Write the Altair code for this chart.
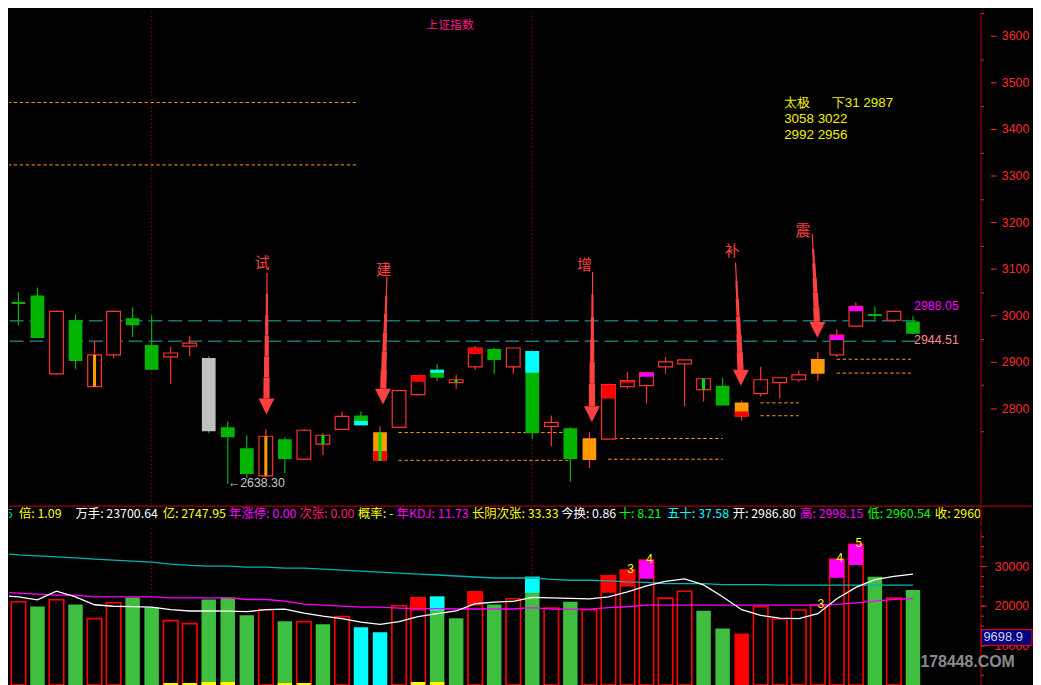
import altair as alt
import pandas as pd

# ---------------- candle data (index 0..48) ----------------
candle_idx = list(range(49))
opens = [3131.9, 3028.5, 3042.6, 2874.4, 2989.4, 2846.8, 2914.9, 2993.6, 2936.2, 2910.6,
         2934.0, 2908.5, 2759.5, 2714.8, 2655.3, 2734.0, 2691.4, 2723.4, 2755.3, 2785.1,
         2687.2, 2759.5, 2829.8, 2883.0, 2855.3, 2889.3, 2927.6, 2889.3, 2923.4, 2761.7,
         2757.4, 2689.3, 2734.0, 2846.8, 2848.9, 2889.3, 2895.7, 2840.4, 2848.9, 2782.9,
         2831.9, 2855.3, 2861.7, 2874.4, 2914.9, 2976.6, 3002.8, 2989.4, 2986.80]
closes = [3017.0, 3024.0, 2951.1, 3008.5, 2902.1, 2914.9, 3008.5, 2978.7, 2883.0, 2919.1,
          2940.4, 2751.0, 2738.3, 2659.5, 2740.4, 2691.4, 2753.2, 2742.5, 2782.9, 2763.8,
          2748.9, 2838.3, 2870.2, 2865.9, 2861.7, 2929.8, 2904.2, 2929.8, 2746.8, 2770.2,
          2691.4, 2736.1, 2851.0, 2859.6, 2876.6, 2900.0, 2904.2, 2863.8, 2806.4, 2812.7,
          2861.7, 2865.9, 2872.3, 2906.4, 2957.4, 3019.2, 2998.4, 3008.5, 2960.54]
highs = [3136.2, 3048.9, 3059.6, 3010.6, 3002.1, 2944.7, 3010.6, 3017.0, 3000.0, 2931.9,
         2955.3, 2912.8, 2772.3, 2742.5, 2755.3, 2738.3, 2755.3, 2746.8, 2793.6, 2793.6,
         2761.7, 2840.4, 2870.2, 2895.7, 2872.3, 2934.0, 2929.8, 2929.8, 2923.4, 2785.1,
         2759.5, 2748.9, 2853.2, 2878.7, 2876.6, 2910.6, 2904.2, 2863.8, 2865.9, 2817.0,
         2889.3, 2865.9, 2880.8, 2921.3, 2970.2, 3027.7, 3019.2, 3008.5, 2998.15]
lows = [3015.0, 2978.7, 2951.1, 2872.3, 2885.1, 2846.8, 2908.5, 2953.2, 2883.0, 2853.2,
        2912.8, 2746.8, 2638.30, 2651.0, 2653.1, 2661.6, 2691.4, 2700.0, 2755.3, 2763.8,
        2687.2, 2759.5, 2827.6, 2859.6, 2842.5, 2883.0, 2874.4, 2874.4, 2734.0, 2719.1,
        2642.5, 2672.3, 2734.0, 2842.5, 2810.6, 2874.4, 2804.2, 2814.9, 2806.4, 2774.4,
        2825.5, 2821.2, 2857.4, 2859.6, 2910.6, 2974.5, 2989.4, 2985.1, 2960.54]
# g = green solid, h = red hollow, s = grey solid, o = orange solid
body_kind = list("ggghghhgghhsgghghhhgohhghhghghgohhhhhhgohhhohhghg")

# coloured top/bottom parts of candle bodies
ov_idx = [19, 20, 22, 23, 25, 28, 32, 33, 34, 39, 44, 45]
ov_top = [2772.9, 2708.5, 2870.2, 2883.0, 2929.8, 2923.4, 2851.0, 2859.6, 2876.6, 2793.6, 2957.4, 3019.2]
ov_bot = [2763.8, 2687.2, 2857.4, 2876.6, 2917.0, 2876.6, 2821.2, 2855.3, 2868.1, 2782.9, 2946.8, 3008.5]
ov_col = ["cyan", "red", "red", "cyan", "red", "cyan", "red", "red", "magenta", "red", "magenta", "magenta"]

# thin inner strips
in_idx = [5, 14, 17, 20, 24, 37]
in_top = [2914.9, 2740.4, 2742.5, 2748.9, 2861.7, 2863.8]
in_bot = [2846.8, 2655.3, 2723.4, 2687.2, 2855.3, 2840.4]
in_col = ["orange", "orange", "lime", "lime", "lime", "lime"]

# reference levels
levels = [2988.05, 2944.51]
level_labels = ["2988.05", "2944.51"]
level_from = -0.5
level_to = 48.4

# orange dashed support lines
seg_p = [3456.9, 3322.8, 2748.3, 2688.7, 2735.5, 2691.0, 2812.1, 2784.4, 2905.7, 2875.9]
seg_i0 = [-0.5, -0.5, 20.97, 20.97, 31.98, 31.98, 39.98, 39.98, 43.99, 43.99]
seg_i1 = [18.84, 18.84, 29.93, 29.93, 38.0, 38.0, 42.0, 42.0, 47.9, 47.9]

# arrow annotations
arrow_txt = ["试", "建", "增", "补", "震"]
txt_i = [13.81, 20.19, 30.74, 38.5, 42.22]
txt_p = [3112.8, 3097.9, 3108.5, 3137.3, 3181.9]
arr_top_i = [14.06, 20.36, 31.17, 38.68, 42.71]
arr_top_p = [3091.5, 3083.0, 3093.6, 3112.8, 3175.1]
arr_tip_i = [14.03, 20.14, 31.13, 38.98, 43.0]
arr_tip_p = [2787.2, 2808.5, 2770.8, 2848.9, 2951.7]

divider_idx = [8, 28]

# ---------------- volume data ----------------
vols = [27575, 21000, 19833, 21500, 20333, 16750, 20750, 22083, 19583, 16250,
        15500, 21583, 22083, 17583, 19000, 16083, 16000, 15333, 17250, 14583,
        13333, 20000, 22000, 22333, 16833, 23500, 20333, 21750, 27333, 19417,
        21000, 19000, 27583, 29000, 31500, 21917, 23667, 18750, 14250, 13000,
        19750, 16667, 18917, 20250, 31750, 35500, 27333, 21917, 24000]
vol_kind = list("ghghghhggh" "hggghghghc" "chhgghghgh" "ghhhhhhggr" "hhhhhhghg")
vo_idx = [22, 23, 25, 28, 32, 33, 34, 44, 45]
vo_bot = [18825, 18750, 20075, 23250, 23250, 24825, 26825, 27075, 30250]
vo_col = ["red", "cyan", "red", "cyan", "red", "red", "magenta", "magenta", "magenta"]
ys_idx = [9, 10, 11, 12, 15, 16, 22, 23]
ys_h = [500, 500, 750, 750, 500, 500, 750, 750]
lab_idx = [33, 34, 43, 44, 45]
lab_txt = ["3", "4", "3", "4", "5"]

ma_white = [22575, 22250, 21500, 23675, 22250, 20250, 19875, 19800, 19625, 19000,
            18675, 18675, 18625, 18500, 19000, 19125, 18125, 17375, 16750, 15875,
            15325, 16000, 17250, 18000, 18675, 20500, 20925, 21125, 22125, 22000,
            21875, 21750, 22250, 23500, 25000, 26125, 26750, 25250, 22250, 19000,
            17575, 16875, 16750, 18000, 21750, 24625, 26575, 27425, 28000]
ma_cyan = [33250, 32825, 32575, 32325, 32075, 31750, 31500, 31250, 31000, 30500,
           30175, 30000, 30000, 29750, 29750, 29500, 29500, 29250, 29000, 28750,
           28500, 28250, 28000, 27750, 27500, 27250, 27000, 27000, 27000, 26675,
           26425, 26425, 26250, 26000, 25875, 25575, 25575, 25575, 25325, 25325,
           25325, 25175, 25175, 25175, 25175, 25175, 25175, 25175, 25175]
ma_mag = [23425, 23175, 22925, 22675, 22675, 22250, 22250, 22250, 22250, 22000,
          22000, 22000, 22000, 21575, 21575, 21175, 20425, 20175, 19925, 19675,
          19675, 19425, 19250, 19250, 19175, 19175, 19175, 19175, 19500, 19125,
          19125, 19125, 19500, 19750, 20175, 20175, 20175, 20175, 20175, 20175,
          20175, 20175, 20175, 20175, 20325, 20750, 21175, 21625, 21825]
current_vol = "9698.9"

# ---------------- info bar text ----------------
info_txt = ["95", "倍: 1.09", "万手: 23700.64", "亿: 2747.95", "年涨停: 0.00", "次张: 0.00",
            "概率: -", "年KDJ: 11.73", "长阴次张: 33.33", "今换: 0.86", "十: 8.21",
            "五十: 37.58", "开: 2986.80", "高: 2998.15", "低: 2960.54", "收: 2960.54"]
info_x = [-2, 18, 75, 163, 230, 301, 360, 399, 475, 565, 623, 672, 738, 806, 874, 942]
info_col = ["#00c8c8", "#ffff00", "#ffffff", "#ffff00", "#ff00ff", "#ff1a6e", "#ffff00",
            "#ff00ff", "#ffff00", "#ffffff", "#00ff00", "#00ffff", "#ffffff", "#ff00ff",
            "#00ff00", "#ffff00"]

# ---------------- styling ----------------
W = 980
H_PRICE = 496
H_INFO = 21
H_VOL = 158
X_DOM = [0.505, 51.547]
P_DOM = [2595.7, 3651.2]
V_DOM = [0, 39500]
HALF = 0.36
CJK = "Noto Sans CJK SC"
NUM = "Liberation Sans"
RED = "#ff3232"
VRED = "#ff0000"
GREEN = "#00b400"
VGREEN = "#3fbf3f"
GRAY = "#c0c0c0"
ORANGE = "#ff9a00"
CYAN = "#00ffff"
MAGENTA = "#ff00ff"
LIME = "#00e000"
AX_RED = "#ff2a2a"
DOM_RED = "#c00000"
TEAL = "#2ab0b0"
DOT_RED = "#b00000"
ARROW = "#ff4040"
TAIJI = "#f0f000"
cmap = {"cyan": CYAN, "red": VRED, "magenta": MAGENTA, "orange": ORANGE, "lime": LIME}

xs = alt.Scale(domain=X_DOM, nice=False, zero=False)
ps = alt.Scale(domain=P_DOM, nice=False, zero=False)
vs = alt.Scale(domain=V_DOM, nice=False, zero=False)
PX_I = W / (X_DOM[1] - X_DOM[0])
PX_P = H_PRICE / (P_DOM[1] - P_DOM[0])


def xq(f):
    return alt.X(f, type="quantitative", scale=xs, axis=None)


def pq(f, axis=None):
    return alt.Y(f, type="quantitative", scale=ps, axis=axis)


def vq(f, axis=None):
    return alt.Y(f, type="quantitative", scale=vs, axis=axis)


one = pd.DataFrame({"a": [0]})

# ---------------- price panel ----------------
cd = pd.DataFrame({"i": candle_idx, "o": opens, "c": closes, "h": highs, "l": lows, "k": body_kind})
cd["xl"] = cd["i"] - HALF
cd["xr"] = cd["i"] + HALF
cd["fill"] = cd["k"].map({"g": GREEN, "s": GRAY, "o": ORANGE, "h": "black"})
cd["wick"] = cd["k"].map({"g": GREEN, "s": GREEN, "o": RED, "h": RED})

ovd = pd.DataFrame({"i": ov_idx, "t": ov_top, "b": ov_bot, "col": [cmap[c] for c in ov_col]})
ovd["xl"] = ovd["i"] - HALF
ovd["xr"] = ovd["i"] + HALF
ind = pd.DataFrame({"i": in_idx, "t": in_top, "b": in_bot, "col": [cmap[c] for c in in_col]})
ind["xl"] = ind["i"] - 0.08
ind["xr"] = ind["i"] + 0.08

ldf = pd.DataFrame({"p": levels, "x0": [level_from] * 2, "x1": [level_to] * 2})
sdf = pd.DataFrame({"p": seg_p, "x0": seg_i0, "x1": seg_i1})
vdf = pd.DataFrame({"i": divider_idx})

# arrow shafts as tapered steps of rules, heads as triangles
shaft_w = [1.2, 2.2, 3.2, 4.2, 5.2, 6.2]
HEAD = 16.0
srows, hrows = [], []
for a in range(len(arrow_txt)):
    ti, tp, pi, pp = arr_top_i[a], arr_top_p[a], arr_tip_i[a], arr_tip_p[a]
    hb = pp + HEAD / PX_P
    n = len(shaft_w)
    for s in range(n):
        y0 = tp + (hb - tp) * s / n
        y1 = tp + (hb - tp) * (s + 1) / n
        x0 = ti + (pi - ti) * (tp - y0) / (tp - pp)
        x1 = ti + (pi - ti) * (tp - y1) / (tp - pp)
        srows.append({"x0": x0, "x1": x1, "y0": y0, "y1": y1, "w": shaft_w[s]})
    hc = pp + (HEAD / 2) / PX_P
    hrows.append({"x": ti + (pi - ti) * (tp - hc) / (tp - pp), "y": hc})
shdf = pd.DataFrame(srows)
hddf = pd.DataFrame(hrows)
tdf = pd.DataFrame({"i": txt_i, "p": txt_p, "t": arrow_txt})

minor_axis = alt.Axis(orient="right", values=[2750 + 100 * k for k in range(10)], labels=False,
                      ticks=True, tickSize=3, tickColor=AX_RED, domain=True, domainColor=DOM_RED,
                      domainWidth=1, grid=False, title=None)
major_axis = alt.Axis(orient="right", values=[2800 + 100 * k for k in range(9)], offset=10,
                      domain=False, ticks=True, tickSize=6, tickColor=AX_RED, labelColor=AX_RED,
                      labelFont=NUM, labelFontSize=12.5, labelPadding=5, labelOverlap=False,
                      format="d", grid=False, title=None)


def taiji(txt, x, y):
    return alt.Chart(one).mark_text(text=txt, font=NUM, fontSize=13.5, color=TAIJI, align="left",
                                    baseline="middle").encode(x=alt.value(x), y=alt.value(y))


p_layers = [
    alt.Chart(vdf).mark_rule(color=DOT_RED, strokeDash=[1, 3], strokeWidth=1).encode(x=xq("i")),
    alt.Chart(ldf).mark_rule(color=TEAL, strokeDash=[14, 6], strokeWidth=1, clip=True).encode(
        x=xq("x0"), x2="x1", y=pq("p")),
    alt.Chart(sdf).mark_rule(color=ORANGE, strokeDash=[3.5, 2.5], strokeWidth=1, clip=True).encode(
        x=xq("x0"), x2="x1", y=pq("p")),
    alt.Chart(cd).mark_rule(strokeWidth=1.2, clip=True).encode(
        x=xq("i"), y=pq("l", minor_axis), y2="h", color=alt.Color("wick:N", scale=None)),
    alt.Chart(cd).transform_filter("datum.k != 'h'").mark_rect(clip=True).encode(
        x=xq("xl"), x2="xr", y=pq("o"), y2="c", color=alt.Color("fill:N", scale=None)),
    alt.Chart(cd).transform_filter("datum.k == 'h'").mark_rect(
        fill="black", stroke=RED, strokeWidth=1.2, clip=True).encode(
        x=xq("xl"), x2="xr", y=pq("o", major_axis), y2="c"),
    alt.Chart(ovd).mark_rect(clip=True).encode(
        x=xq("xl"), x2="xr", y=pq("t"), y2="b", color=alt.Color("col:N", scale=None)),
    alt.Chart(ind).mark_rect(clip=True).encode(
        x=xq("xl"), x2="xr", y=pq("t"), y2="b", color=alt.Color("col:N", scale=None)),
    alt.Chart(shdf).mark_rule(color=ARROW).encode(
        x=xq("x0"), x2="x1", y=pq("y0"), y2="y1", size=alt.Size("w:Q", scale=None)),
    alt.Chart(hddf).mark_point(shape="M -1 -1 L 1 -1 L 0 1 Z", filled=True, size=256, color=ARROW,
                               opacity=1, strokeWidth=0).encode(x=xq("x"), y=pq("y")),
    alt.Chart(tdf).mark_text(font=CJK, fontSize=15, color=ARROW, baseline="middle").encode(
        x=xq("i"), y=pq("p"), text="t:N"),
    alt.Chart(pd.DataFrame({"x": [48.06], "p": [levels[0]], "t": [level_labels[0]]})).mark_text(
        align="left", baseline="middle", font=NUM, fontSize=12.5, color=MAGENTA, dy=-15).encode(
        x=xq("x"), y=pq("p"), text="t:N"),
    alt.Chart(pd.DataFrame({"x": [48.06], "p": [levels[1]], "t": [level_labels[1]]})).mark_text(
        align="left", baseline="middle", font=NUM, fontSize=12.5, color="#ff8c8c", dy=-1.5).encode(
        x=xq("x"), y=pq("p"), text="t:N"),
    alt.Chart(pd.DataFrame({"i": [12], "p": [lows[12]], "t": ["\u2190" + "%.2f" % lows[12]]})).mark_text(
        align="left", baseline="middle", font=NUM, fontSize=12.5, color="#c8c8c8", dy=-1).encode(
        x=xq("i"), y=pq("p"), text="t:N"),
    alt.Chart(one).mark_text(text="上证指数", font=CJK, fontSize=12, color="#ff1a8c",
                             baseline="middle").encode(x=alt.value(445), y=alt.value(13)),
    taiji("太极", 782, 92),
    taiji("下31 2987", 830, 92),
    taiji("3058 3022", 782, 108),
    taiji("2992 2956", 782, 124),
]
price = alt.layer(*p_layers).properties(width=W, height=H_PRICE).resolve_axis(y="independent")

# ---------------- info bar ----------------
idf = pd.DataFrame({"px": [x - 8 for x in info_x], "t": info_txt, "col": info_col})
info = alt.layer(
    alt.Chart(idf).mark_text(align="left", baseline="middle", font=CJK, fontSize=12.5, clip=True).encode(
        x=alt.X("px:Q", scale=None), y=alt.value(8.5), text="t:N", color=alt.Color("col:N", scale=None)),
    alt.Chart(one).mark_rule(color="#d00000", strokeWidth=1).encode(
        x=alt.value(0), x2=alt.value(1032), y=alt.value(0.5)),
    alt.Chart(one).mark_rule(color=DOM_RED, strokeWidth=1).encode(
        x=alt.value(980.5), y=alt.value(0), y2=alt.value(H_INFO)),
).properties(width=W, height=H_INFO)

# ---------------- volume panel ----------------
vd = pd.DataFrame({"i": candle_idx, "v": vols, "k": vol_kind, "zero": 0})
vd["xl"] = vd["i"] - 0.38
vd["xr"] = vd["i"] + 0.38
vd["fill"] = vd["k"].map({"g": VGREEN, "c": CYAN, "r": VRED, "h": "black"})
vod = pd.DataFrame({"i": vo_idx, "b": vo_bot, "col": [cmap[c] for c in vo_col]})
vod["t"] = [vols[i] for i in vo_idx]
vod["xl"] = vod["i"] - 0.38
vod["xr"] = vod["i"] + 0.38
ysd = pd.DataFrame({"i": ys_idx, "h": ys_h, "zero": 0})
ysd["xl"] = ysd["i"] - 0.38
ysd["xr"] = ysd["i"] + 0.38
labd = pd.DataFrame({"i": lab_idx, "t": lab_txt, "v": [vols[i] for i in lab_idx]})
mad = pd.DataFrame({"i": candle_idx, "w": ma_white, "c": ma_cyan, "m": ma_mag})

v_minor = alt.Axis(orient="right", values=[2500 * k for k in range(1, 16)], labels=False, ticks=True,
                   tickSize=3, tickColor=AX_RED, domain=True, domainColor=DOM_RED, domainWidth=1,
                   grid=False, title=None)
v_major = alt.Axis(orient="right", values=[10000, 20000, 30000], domain=False, ticks=True, tickSize=6,
                   tickColor=AX_RED, labelColor=AX_RED, labelFont=NUM, labelFontSize=12.5,
                   labelPadding=8, labelOverlap=False, format="d", grid=False, title=None)

v_layers = [
    alt.Chart(vdf).mark_rule(color=DOT_RED, strokeDash=[1, 3], strokeWidth=1).encode(x=xq("i")),
    alt.Chart(vd).transform_filter("datum.k != 'h'").mark_rect(clip=True).encode(
        x=xq("xl"), x2="xr", y=vq("zero", v_minor), y2="v", color=alt.Color("fill:N", scale=None)),
    alt.Chart(vd).transform_filter("datum.k == 'h'").mark_rect(
        fill="black", stroke=VRED, strokeWidth=1.6, clip=True).encode(
        x=xq("xl"), x2="xr", y=vq("zero", v_major), y2="v"),
    alt.Chart(vod).mark_rect(clip=True).encode(
        x=xq("xl"), x2="xr", y=vq("b"), y2="t", color=alt.Color("col:N", scale=None)),
    alt.Chart(ysd).mark_rect(clip=True, color="#ffff00").encode(
        x=xq("xl"), x2="xr", y=vq("zero"), y2="h"),
    alt.Chart(mad).mark_line(color="#00b4b4", strokeWidth=1.3, clip=True).encode(x=xq("i"), y=vq("c")),
    alt.Chart(mad).mark_line(color=MAGENTA, strokeWidth=1.3, clip=True).encode(x=xq("i"), y=vq("m")),
    alt.Chart(mad).mark_line(color="#ffffff", strokeWidth=1.3, clip=True).encode(x=xq("i"), y=vq("w")),
    alt.Chart(labd).mark_text(font=NUM, fontSize=12, color="#ffff00", dx=3, dy=-1,
                              baseline="middle").encode(x=xq("i"), y=vq("v"), text="t:N"),
    alt.Chart(one).mark_rect(fill="#000080", stroke=VRED, strokeWidth=1).encode(
        x=alt.value(981), x2=alt.value(1032), y=alt.value(102), y2=alt.value(118)),
    alt.Chart(one).mark_text(text=current_vol, font=NUM, fontSize=13, color="#d0d0f0", align="left",
                             baseline="middle").encode(x=alt.value(983), y=alt.value(110)),
    alt.Chart(one).mark_text(text="178448.COM", font=NUM, fontSize=16, fontWeight="bold",
                             color="#8a8a8a", baseline="middle").encode(x=alt.value(967), y=alt.value(135)),
]
vol = alt.layer(*v_layers).properties(width=W, height=H_VOL).resolve_axis(y="independent")

chart = alt.vconcat(price, info, vol, spacing=0).properties(
    background="black", padding=0).configure_view(strokeWidth=0)

chart.save("out.html", embed_options={"renderer": "svg", "actions": False})
